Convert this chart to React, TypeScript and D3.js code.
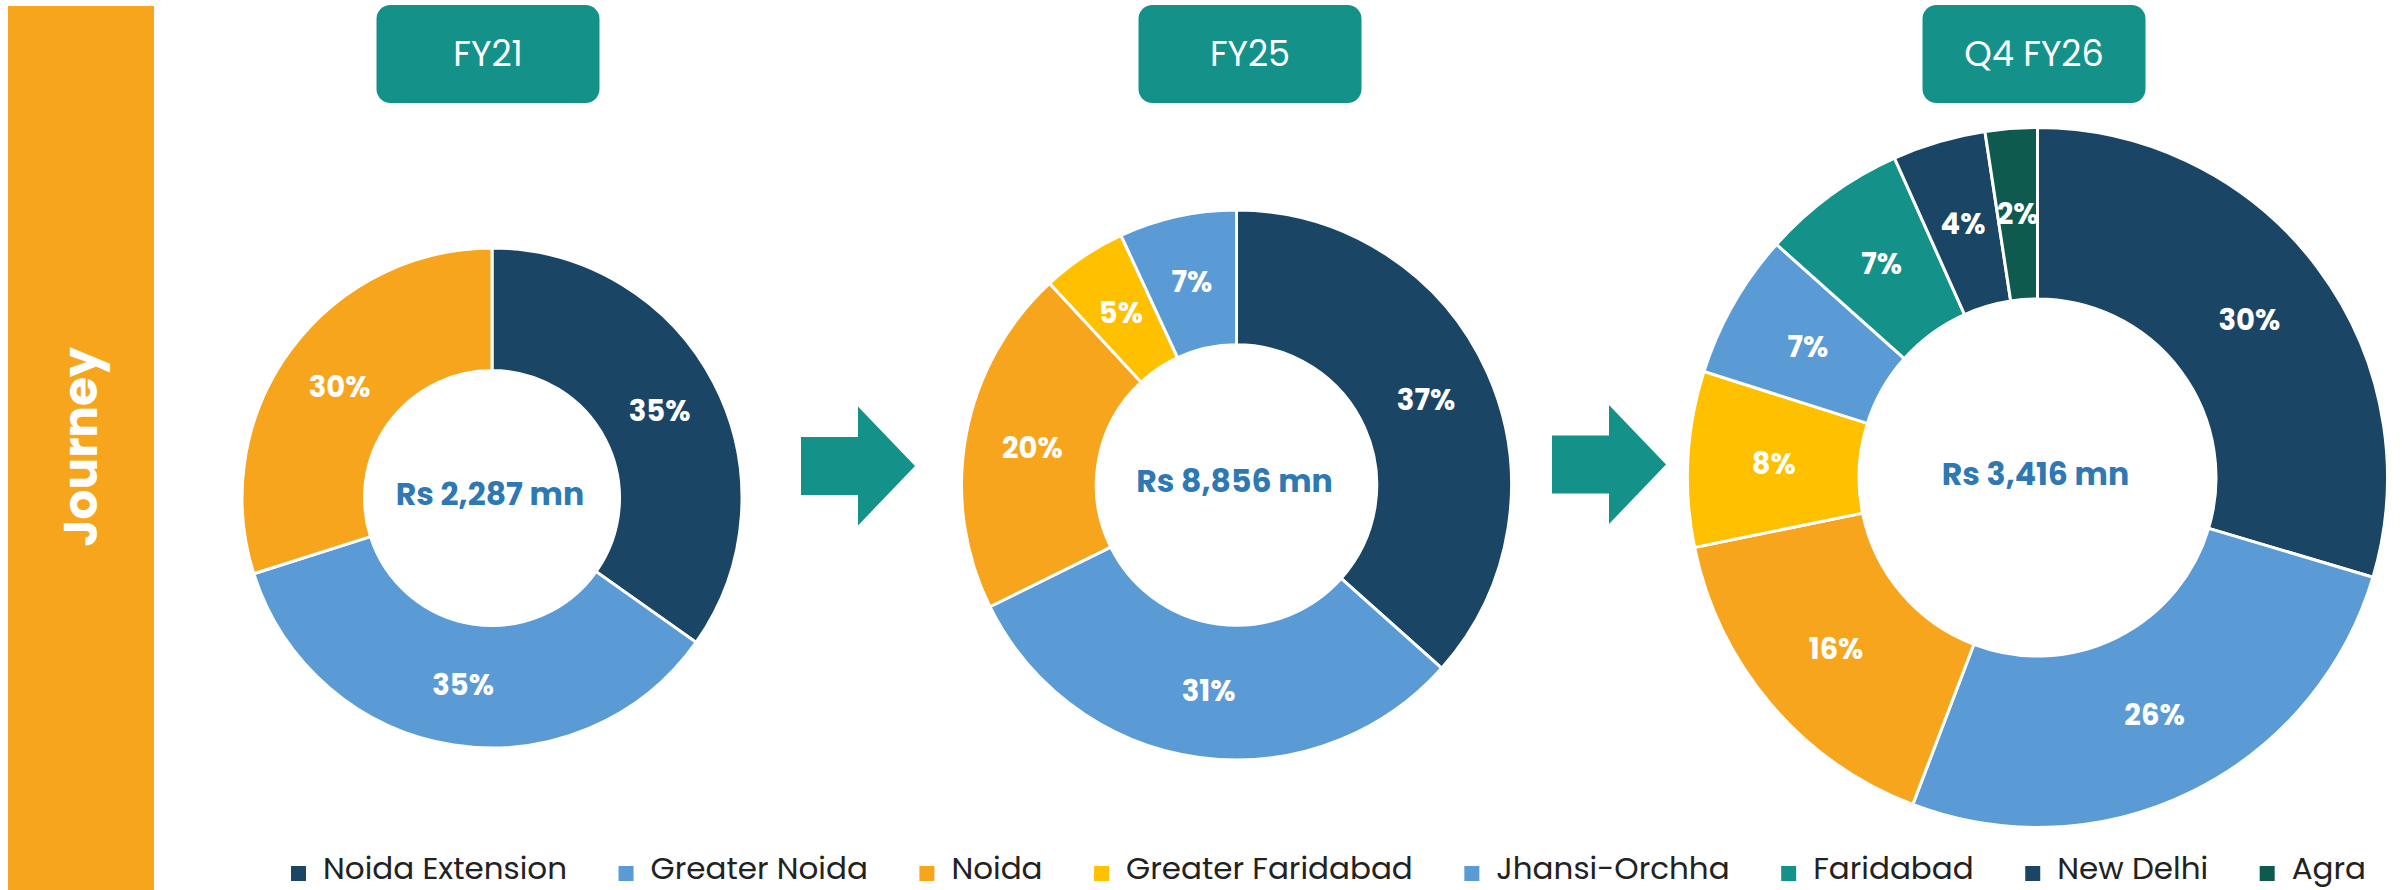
import React, { useEffect, useRef } from "react";
import * as d3 from "d3";

// ---------- data ----------
const categories = [
  "Noida Extension",
  "Greater Noida",
  "Noida",
  "Greater Faridabad",
  "Jhansi-Orchha",
  "Faridabad",
  "New Delhi",
  "Agra",
];
const periods = ["FY21", "FY25", "Q4 FY26"];
const totals = ["Rs 2,287 mn", "Rs 8,856 mn", "Rs 3,416 mn"];
const fy21Values = [34.8, 35.3, 29.9, 0, 0, 0, 0, 0];
const fy25Values = [36.6, 31.1, 20.4, 5.0, 6.9, 0, 0, 0];
const q4fy26Values = [29.6, 26.2, 16.0, 8.1, 6.7, 6.7, 4.3, 2.4];
const sideTitle = "Journey";

// ---------- styles / layout ----------
const colors = [
  "#1B4565", // Noida Extension
  "#5B9BD5", // Greater Noida
  "#F6A51C", // Noida
  "#FFC000", // Greater Faridabad
  "#5B9BD5", // Jhansi-Orchha
  "#14928A", // Faridabad
  "#1B4565", // New Delhi
  "#0E5A4F", // Agra
];
const TEAL = "#14928A";
const ORANGE = "#F6A51C";
const CENTER_BLUE = "#2E78B4";
const FONT = "Poppins, Inter, 'Open Sans', sans-serif";

const W = 2402;
const H = 890;

const donutLayout = [
  { cx: 492, cy: 498, r: 250, boxCx: 488 },
  { cx: 1236.5, cy: 485, r: 275, boxCx: 1250 },
  { cx: 2037.5, cy: 477.5, r: 350, boxCx: 2034 },
];
const arrowLayout = [
  { x0: 801, cy: 466 },
  { x0: 1552, cy: 464.5 },
];

export default function App() {
  const ref = useRef<SVGSVGElement>(null);

  useEffect(() => {
    const svg = d3.select(ref.current);
    svg.selectAll("*").remove();

    svg.append("rect").attr("width", W).attr("height", H).attr("fill", "#ffffff");

    // side bar
    svg
      .append("rect")
      .attr("x", 8)
      .attr("y", 6)
      .attr("width", 146)
      .attr("height", H - 6)
      .attr("fill", ORANGE);
    svg
      .append("text")
      .attr("transform", `translate(97,447) rotate(-90)`)
      .attr("text-anchor", "middle")
      .attr("font-family", FONT)
      .attr("font-weight", 700)
      .attr("font-size", 47)
      .attr("fill", "#ffffff")
      .text(sideTitle);

    const allValues = [fy21Values, fy25Values, q4fy26Values];

    allValues.forEach((vals, i) => {
      const L = donutLayout[i];
      const data = categories
        .map((c, k) => ({ name: c, value: vals[k], color: colors[k] }))
        .filter((d) => d.value > 0);
      const pie = d3
        .pie<any>()
        .sort(null)
        .value((d) => d.value)
        .startAngle(0)
        .endAngle(Math.PI * 2);
      const arcs = pie(data);
      const inner = L.r * 0.51;
      const arc = d3.arc<any>().innerRadius(inner).outerRadius(L.r);
      const g = svg.append("g").attr("transform", `translate(${L.cx},${L.cy})`);
      g.selectAll("path")
        .data(arcs)
        .join("path")
        .attr("d", arc as any)
        .attr("fill", (d: any) => d.data.color)
        .attr("stroke", "#ffffff")
        .attr("stroke-width", 3)
        .attr("stroke-linejoin", "miter");
      g.selectAll("text.pct")
        .data(arcs)
        .join("text")
        .attr("class", "pct")
        .attr("x", (d: any) => arc.centroid(d)[0])
        .attr("y", (d: any) => arc.centroid(d)[1])
        .attr("dy", "0.35em")
        .attr("text-anchor", "middle")
        .attr("font-family", FONT)
        .attr("font-weight", 700)
        .attr("font-size", 29)
        .attr("fill", "#ffffff")
        .text((d: any) => `${Math.round(d.data.value)}%`);
      g.append("text")
        .attr("x", -2)
        .attr("y", -4)
        .attr("dy", "0.35em")
        .attr("text-anchor", "middle")
        .attr("font-family", FONT)
        .attr("font-weight", 700)
        .attr("font-size", 31.5)
        .attr("fill", CENTER_BLUE)
        .text(totals[i]);

      // title box
      const bw = 223;
      svg
        .append("rect")
        .attr("x", L.boxCx - bw / 2)
        .attr("y", 5)
        .attr("width", bw)
        .attr("height", 98)
        .attr("rx", 14)
        .attr("fill", TEAL);
      svg
        .append("text")
        .attr("x", L.boxCx)
        .attr("y", 54)
        .attr("dy", "0.35em")
        .attr("text-anchor", "middle")
        .attr("font-family", FONT)
        .attr("font-weight", 400)
        .attr("font-size", 35)
        .attr("fill", "#ffffff")
        .text(periods[i]);
    });

    // arrows
    arrowLayout.forEach((a) => {
      const sw = 57,
        sh = 58,
        hw = 57,
        hh = 119;
      const pts = [
        [a.x0, a.cy - sh / 2],
        [a.x0 + sw, a.cy - sh / 2],
        [a.x0 + sw, a.cy - hh / 2],
        [a.x0 + sw + hw, a.cy],
        [a.x0 + sw, a.cy + hh / 2],
        [a.x0 + sw, a.cy + sh / 2],
        [a.x0, a.cy + sh / 2],
      ];
      svg
        .append("path")
        .attr("d", d3.line()(pts as any) + "Z")
        .attr("fill", TEAL);
    });

    // legend
    const lg = svg.append("g");
    let x = 291;
    categories.forEach((c, k) => {
      lg.append("rect")
        .attr("x", x)
        .attr("y", 866)
        .attr("width", 15)
        .attr("height", 15)
        .attr("fill", colors[k]);
      const t = lg
        .append("text")
        .attr("x", x + 32)
        .attr("y", 878.5)
        .attr("font-family", FONT)
        .attr("font-size", 31)
        .attr("fill", "#222222")
        .text(c);
      const w = (t.node() as SVGTextElement).getComputedTextLength();
      x = x + 32 + w + 51.5;
    });
  }, []);

  return (
    <svg
      ref={ref}
      width={W}
      height={H}
      style={{ position: "absolute", left: 0, top: 0, display: "block" }}
    />
  );
}
